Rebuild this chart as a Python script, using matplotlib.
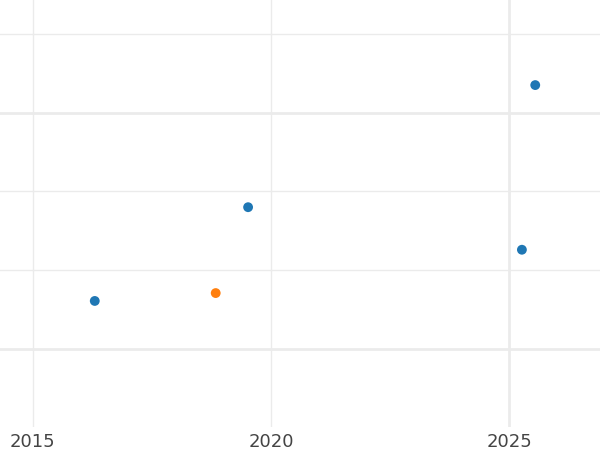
import matplotlib
matplotlib.use("Agg")
import matplotlib.pyplot as plt

# Data (y has no labels, arbitrary units)
years = [2016.30, 2018.84, 2019.52, 2025.27, 2025.55]
values = [0.61, 0.71, 1.80, 1.26, 3.35]
groups = ["A", "B", "A", "A", "A"]
group_colors = {"A": "#1f77b4", "B": "#ff7f0e"}

x_ticks = [2015, 2020, 2025]
y_ticks = [0, 1, 2, 3, 4]

fig = plt.figure(figsize=(6, 4.5), dpi=100)
ax = fig.add_axes([0, 1 - 427 / 450, 1, 427 / 450])

ax.scatter(years, values, c=[group_colors[g] for g in groups], s=50,
           linewidths=0, zorder=3)

ax.set_xlim(2014.31, 2026.91)
ax.set_ylim(-0.99, 4.43)
ax.set_xticks(x_ticks)
ax.set_xticklabels([str(t) for t in x_ticks])
ax.set_yticks(y_ticks)
ax.set_yticklabels([])

ax.grid(True, color="#ebebeb", linewidth=1.0, zorder=0)
ax.set_axisbelow(True)
# a few gridlines are drawn heavier in the original
for i, line in enumerate(ax.get_xgridlines()):
    if x_ticks[i] == 2025:
        line.set_linewidth(2.0)
for i, line in enumerate(ax.get_ygridlines()):
    if y_ticks[i] in (0, 3):
        line.set_linewidth(2.0)

ax.tick_params(axis="both", length=0, labelsize=13, labelcolor="#444444", pad=4)
for s in ax.spines.values():
    s.set_visible(False)

fig.savefig("out.png", dpi=100)
